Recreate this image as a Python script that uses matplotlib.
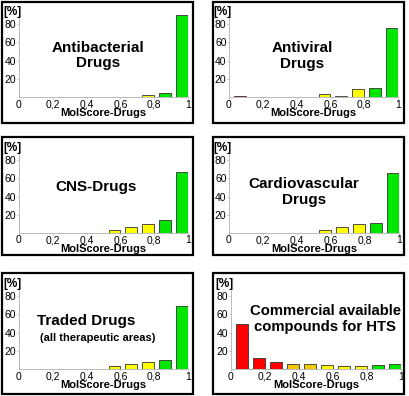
import matplotlib
matplotlib.use('Agg')
import matplotlib.pyplot as plt
from matplotlib.patches import Rectangle
from matplotlib.ticker import FuncFormatter

plt.rcParams['font.family'] = ['Liberation Sans', 'DejaVu Sans']

# score bins (lower edge of each 0.1 bin)
bins = [0.0, 0.1, 0.2, 0.3, 0.4, 0.5, 0.6, 0.7, 0.8, 0.9]
bin_colors = ['#ff0000', '#ff0000', '#ff0000', '#f5c400', '#f5cc00',
              '#ffff00', '#ffff00', '#ffff00', '#00e600', '#00e600']

# percentages per bin
antibacterial = [0, 0, 0, 0, 0, 0.5, 0.5, 2.5, 4.5, 90]
antiviral = [1, 0, 0, 0, 0, 3.5, 1, 8.5, 10, 76]
cns = [0, 0, 0, 0.3, 0, 3.5, 7, 10, 14, 67]
cardio = [0, 0, 0, 0, 0, 3.2, 7, 9.6, 11.5, 66]
traded = [0, 0, 0, 0, 0.3, 3, 5, 8, 10, 69]
commercial = [50, 12.5, 7.5, 5.3, 5, 4, 3.5, 3.5, 4.3, 5.7]

panels = [
    (antibacterial, [('Antibacterial\nDrugs', 0.47, 45.5, 11)]),
    (antiviral, [('Antiviral\nDrugs', 0.435, 45, 11)]),
    (cns, [('CNS-Drugs', 0.455, 50.5, 11)]),
    (cardio, [('Cardiovascular\nDrugs', 0.44, 45, 11)]),
    (traded, [('Traded Drugs', 0.40, 52.7, 11),
              ('(all therapeutic areas)', 0.465, 34, 8)]),
    (commercial, [('Commercial available\ncompounds for HTS', 0.555, 54.7, 10.7)]),
]

W, H = 410, 396
fig = plt.figure(figsize=(W / 100, H / 100), dpi=100)

# box (x0, y0, x1, y1) and axes (x0, x1, y_zero) in pixels from top-left
boxes = [(2, 2, 193, 123), (213, 2, 404, 123),
         (2, 137, 193, 255), (213, 137, 404, 255),
         (2, 273, 193, 394), (213, 273, 404, 394)]
axes_px = [(19, 188, 97), (229, 398, 97),
           (19, 188, 233), (229, 399, 233),
           (19, 188, 369), (231, 401, 369)]
px_per_unit = 0.91

for (vals, labels), box, (ax0, ax1, yz) in zip(panels, boxes, axes_px):
    bx0, by0, bx1, by1 = box
    fig.patches.append(Rectangle((bx0 / W, 1 - by1 / H), (bx1 - bx0) / W, (by1 - by0) / H,
                                 transform=fig.transFigure, fill=False,
                                 edgecolor='black', linewidth=1.6))
    top = yz - 100 * px_per_unit
    ax = fig.add_axes([ax0 / W, 1 - yz / H, (ax1 - ax0) / W, (yz - top) / H])
    ax.bar([b + 0.03 for b in bins], vals, width=0.068, align='edge',
           color=bin_colors, edgecolor='#333333', linewidth=0.6)
    ax.set_xlim(0, 1)
    ax.set_ylim(0, 100)
    ax.set_xticks([0, 0.2, 0.4, 0.6, 0.8, 1.0])
    ax.xaxis.set_major_formatter(FuncFormatter(
        lambda v, p: '0' if v == 0 else ('1' if v == 1 else f'{v:.1f}'.replace('.', ','))))
    ax.set_yticks([20, 40, 60, 80])
    for s in ['top', 'right']:
        ax.spines[s].set_visible(False)
    for s in ['left', 'bottom']:
        ax.spines[s].set_color('#bbbbbb')
        ax.spines[s].set_linewidth(0.7)
    ax.tick_params(axis='both', labelsize=7.5, colors='#bbbbbb', labelcolor='black',
                   length=1.5, width=0.6, pad=0.3)
    # x label baseline about 19 px below the axis line
    ax.text(0.5, -19.5 / (100 * px_per_unit), 'MolScore-Drugs', transform=ax.transAxes,
            fontsize=8, fontweight='bold', ha='center', va='baseline')
    ax.text(-0.09, 1.0, '[%]', transform=ax.transAxes, fontsize=8.5,
            fontweight='bold', ha='left', va='top')
    for txt, x, y, fs in labels:
        ax.text(x, y, txt, fontsize=fs, fontweight='bold', ha='center', va='center',
                linespacing=1.15)
    ax.patch.set_alpha(0)

fig.savefig('out.png', dpi=100)
